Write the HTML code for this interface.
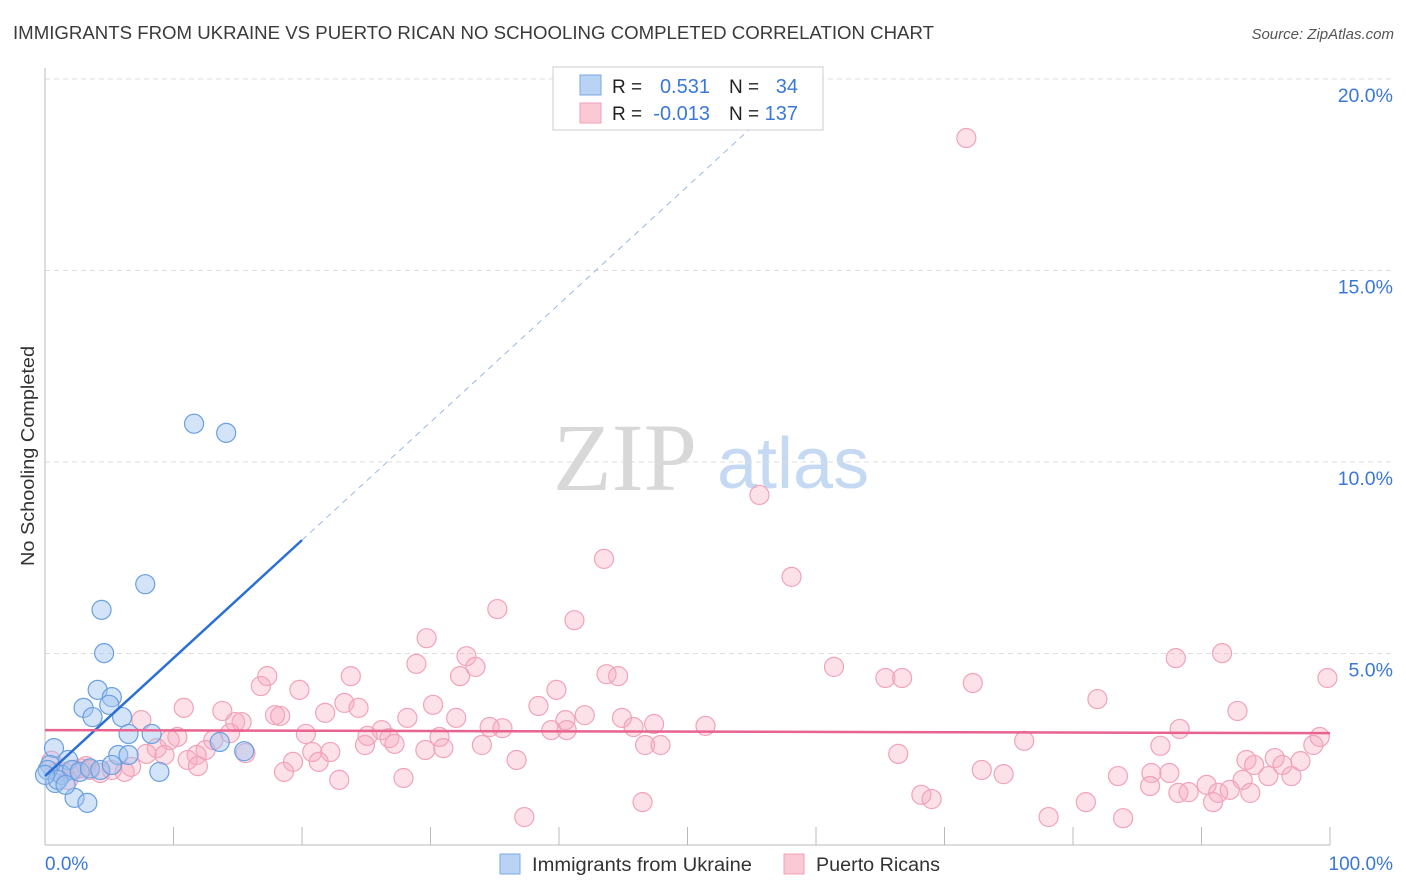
<!DOCTYPE html>
<html><head><meta charset="utf-8">
<style>
body{margin:0;background:#fff;font-family:"Liberation Sans",sans-serif;}
#wrap{position:relative;width:1406px;height:892px;overflow:hidden;}
</style></head>
<body>
<div id="wrap">
<svg id="svg" width="1406" height="892" xmlns="http://www.w3.org/2000/svg">
<text x="13" y="39" font-size="18" fill="#3a3a3a" textLength="921" lengthAdjust="spacingAndGlyphs">IMMIGRANTS FROM UKRAINE VS PUERTO RICAN NO SCHOOLING COMPLETED CORRELATION CHART</text>
<text x="1394" y="39" font-size="15" fill="#555" font-style="italic" text-anchor="end">Source: ZipAtlas.com</text>
<text transform="translate(34,456) rotate(-90)" font-size="18" fill="#333" text-anchor="middle" textLength="220" lengthAdjust="spacingAndGlyphs">No Schooling Completed</text>
<g>
<text x="553" y="490" font-family="Liberation Serif,serif" font-size="96" fill="#d8d8d8">ZIP</text>
<text x="717" y="488" font-size="72" fill="#c6d9f2">atlas</text>
</g>
<g id="grid"></g>
<g id="axes"></g>
<g id="pts"></g>
<g id="lines"></g>
<g>
<rect x="553" y="67" width="270" height="63" fill="#fff" stroke="#ccc"/>
<rect x="580" y="75" width="21" height="20" fill="#b9d3f5" stroke="#7aa7e6"/>
<rect x="580" y="103" width="21" height="20" fill="#fbc8d6" stroke="#f0a0b8"/>
<text x="612" y="93" font-size="19" fill="#222">R =</text>
<text x="710" y="93" font-size="20" fill="#3a78d8" text-anchor="end">0.531</text>
<text x="729" y="93" font-size="19" fill="#222">N =</text>
<text x="798" y="93" font-size="20" fill="#3a78d8" text-anchor="end">34</text>
<text x="612" y="120" font-size="19" fill="#222">R =</text>
<text x="710" y="120" font-size="20" fill="#3a78d8" text-anchor="end">-0.013</text>
<text x="729" y="120" font-size="19" fill="#222">N =</text>
<text x="798" y="120" font-size="20" fill="#3a78d8" text-anchor="end">137</text>
</g>
<g>
<rect x="500" y="854" width="20" height="20" fill="#b9d3f5" stroke="#7aa7e6"/>
<text x="532" y="871" font-size="19" fill="#333" textLength="220" lengthAdjust="spacingAndGlyphs">Immigrants from Ukraine</text>
<rect x="784" y="854" width="20" height="20" fill="#fbc8d6" stroke="#f0a0b8"/>
<text x="816" y="871" font-size="19" fill="#333" textLength="124" lengthAdjust="spacingAndGlyphs">Puerto Ricans</text>
</g>
</svg>
</div>
<script>
const yTicks=[5,10,15,20];
const yTickLabels=["5.0%","10.0%","15.0%","20.0%"];
const xTickVals=[0,10,20,30,40,50,60,70,80,90,100];
const blueX=[11.6,14.1,7.8,4.4,4.6,4.1,5.2,3.0,5.0,3.7,6.0,6.5,8.3,13.6,0.7,5.7,6.5,15.5,1.8,8.9,2.3,3.3,0.8,1.3,0.4,0.2,2.1,2.7,3.5,1.0,1.6,4.3,0,5.2];
const blueY=[11.0,10.76,6.81,6.14,5.01,4.05,3.86,3.58,3.66,3.34,3.34,2.90,2.90,2.69,2.53,2.35,2.35,2.45,2.22,1.91,1.23,1.10,1.62,1.83,2.09,1.96,1.96,1.91,2.0,1.70,1.57,1.96,1.83,2.09];
const pinkX=[71.7,55.6,43.5,58.1,35.2,41.2,29.7,32.8,91.6,88.0,28.9,33.5,61.4,17.3,23.8,32.3,43.7,44.6,65.4,66.7,99.8,16.8,72.2,19.8,39.8,81.9,23.3,10.8,24.4,38.4,30.2,13.8,92.8,21.8,17.9,18.3,42.0,32.0,28.2,7.5,14.8,15.3,40.5,44.9,47.4,51.4,45.8,34.6,35.6,26.2,39.4,40.6,88.3,14.4,20.3,25.1,10.3,26.8,30.7,99.2,13.1,27.2,24.9,46.7,47.9,34.0,76.2,86.8,98.7,9.7,29.6,31.0,8.7,12.5,15.6,20.8,22.2,7.9,9.3,11.8,66.4,19.3,21.3,36.7,93.5,95.7,97.7,94.1,96.3,11.1,6.7,11.9,3.2,3.5,5.2,6.2,4.3,2.3,1.0,1.8,18.6,27.9,22.9,72.9,74.6,83.5,86.1,87.5,95.2,97.0,93.2,86.0,90.4,88.2,89.0,91.3,92.2,93.8,90.9,68.2,69.0,46.5,81.0,37.3,78.1,83.9,0.5,1.5,2.8];
const pinkY=[18.46,9.14,7.47,7.00,6.16,5.87,5.40,4.93,5.01,4.88,4.73,4.65,4.65,4.41,4.41,4.41,4.46,4.41,4.36,4.36,4.36,4.15,4.23,4.05,4.05,3.81,3.71,3.58,3.58,3.63,3.66,3.50,3.50,3.45,3.39,3.37,3.39,3.32,3.32,3.26,3.21,3.21,3.26,3.32,3.16,3.11,3.08,3.08,3.05,3.00,3.00,3.00,3.03,2.92,2.90,2.85,2.82,2.79,2.82,2.82,2.74,2.64,2.61,2.61,2.61,2.61,2.72,2.59,2.61,2.74,2.48,2.53,2.53,2.48,2.40,2.43,2.43,2.38,2.35,2.35,2.38,2.17,2.17,2.22,2.22,2.27,2.19,2.09,2.09,2.22,2.04,2.06,2.06,1.96,1.96,1.91,1.88,1.96,1.91,1.70,1.91,1.75,1.70,1.96,1.85,1.80,1.88,1.88,1.80,1.80,1.70,1.54,1.57,1.36,1.38,1.36,1.44,1.36,1.12,1.31,1.20,1.12,1.12,0.73,0.73,0.70,2.2,1.9,2.0];
const blueTrend=[1.8,0.308];   // intercept %, slope % per x%
const pinkTrend=[3.0,-0.0008];

const X0=45,X1=1330,Y0=845,PY=38.3;
function xs(v){return X0+(X1-X0)*v/100;}
function ys(v){return Y0-v*PY;}
const NS="http://www.w3.org/2000/svg";
function mk(tag,attrs,parent){const e=document.createElementNS(NS,tag);for(const k in attrs)e.setAttribute(k,attrs[k]);parent.appendChild(e);return e;}
const grid=document.getElementById('grid'),axes=document.getElementById('axes'),pts=document.getElementById('pts'),lines=document.getElementById('lines');
yTicks.forEach((t,i)=>{
  const l=mk('line',{x1:X0,x2:1394,y1:ys(t),y2:ys(t),stroke:'#ddd','stroke-dasharray':'5,4'},grid);
  
  
  const tx=mk('text',{x:1393,y:ys(t)+23,'font-size':19.5,fill:'#3a78d8','text-anchor':'end'},axes);
  tx.textContent=yTickLabels[i];
  
  
});
const ya=mk('line',{x1:X0,x2:X0,y1:68,y2:Y0,stroke:'#bbb'},axes);


const xa=mk('line',{x1:X0,x2:X1,y1:Y0,y2:Y0,stroke:'#bbb'},axes);


xTickVals.forEach(v=>{
  const t=mk('line',{x1:xs(v),x2:xs(v),y1:Y0,y2:Y0-18,stroke:'#bbb'},axes);
  
  
});
const xl0=mk('text',{x:45,y:870,'font-size':19,fill:'#3a78d8'},axes);xl0.textContent='0.0%';


const xl1=mk('text',{x:1393,y:870,'font-size':19,fill:'#3a78d8','text-anchor':'end'},axes);xl1.textContent='100.0%';



pinkX.forEach((x,i)=>{
  const c=mk('circle',{cx:xs(x),cy:ys(pinkY[i]),r:9.5,fill:'rgba(246,170,192,0.35)',stroke:'#f0a3ba','stroke-width':1.2},pts);
  
  
});
blueX.forEach((x,i)=>{
  const c=mk('circle',{cx:xs(x),cy:ys(blueY[i]),r:9.5,fill:'rgba(160,196,240,0.45)',stroke:'#6a9fe0','stroke-width':1.2},pts);
  
  
});
const bs=mk('line',{x1:xs(0),y1:ys(blueTrend[0]),x2:xs(20),y2:ys(blueTrend[0]+blueTrend[1]*20),stroke:'#2a6fd6','stroke-width':2.5},lines);


const bd=mk('line',{x1:xs(20),y1:ys(blueTrend[0]+blueTrend[1]*20),x2:xs(55.5),y2:ys(blueTrend[0]+blueTrend[1]*55.5),stroke:'#9ab8e0','stroke-width':1,'stroke-dasharray':'6,5'},lines);


const pl=mk('line',{x1:xs(0),y1:ys(pinkTrend[0]),x2:xs(100),y2:ys(pinkTrend[0]+pinkTrend[1]*100),stroke:'#e8638f','stroke-width':2.5},lines);


</script>
</body></html>
